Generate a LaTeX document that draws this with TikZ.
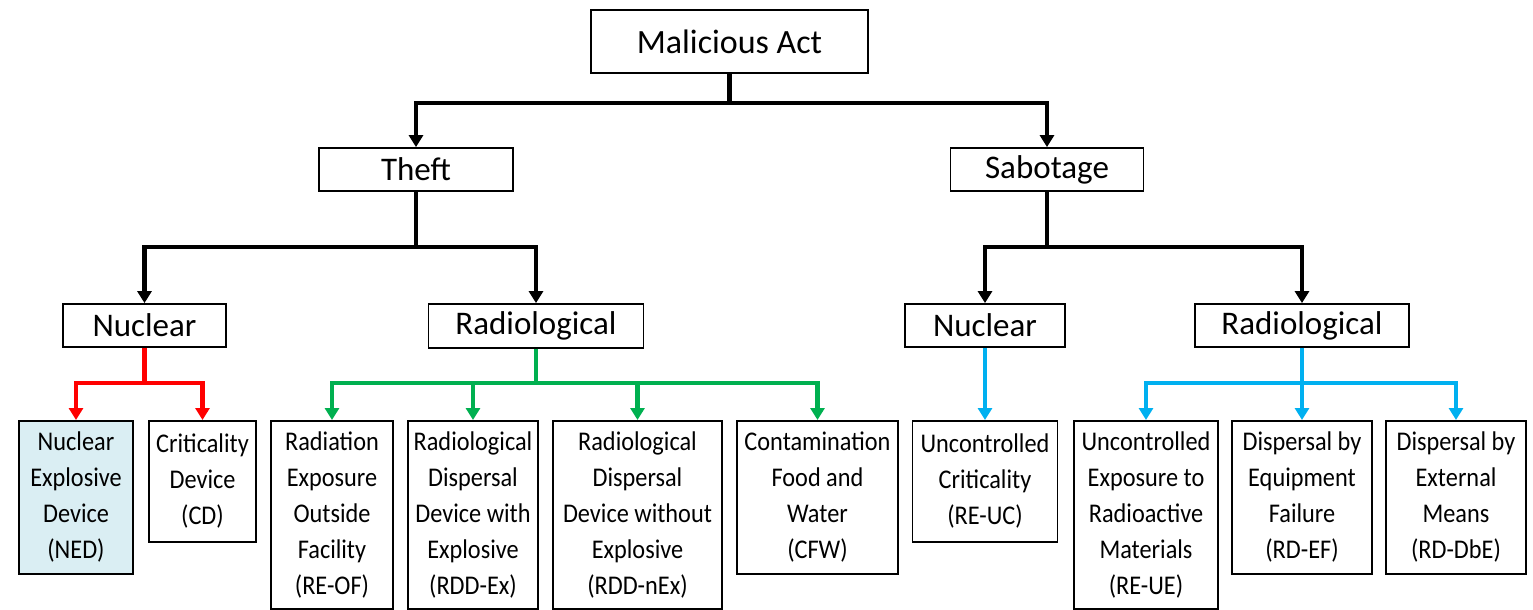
\documentclass[tikz,border=0pt]{standalone}
\usepackage{fontspec}
\setmainfont{Carlito}
\newfontfamily\condfont[FakeStretch=0.9]{Carlito}
\usetikzlibrary{arrows.meta}
\definecolor{cred}{HTML}{FF0000}
\definecolor{cgreen}{HTML}{00B050}
\definecolor{cblue}{HTML}{00B0F0}
\definecolor{nedfill}{HTML}{DAEEF3}
\begin{document}
\begin{tikzpicture}[x=0.5pt,y=-0.5pt,
  box/.style={draw=black, line width=0.9pt, inner sep=0pt, align=center, fill=white},
  topbox/.style={box, font=\fontsize{17}{20}\selectfont},
  midbox/.style={box, font=\fontsize{16.5}{20}\selectfont},
  leafbox/.style={box, font=\condfont\fontsize{13.5}{18}\selectfont, anchor=north},
  conn/.style={line width=2.4pt, -{Triangle[width=7pt,length=6pt]}},
]
\useasboundingbox (0,0) rectangle (1533,610);

\node[topbox, minimum width=138.5pt, minimum height=31.5pt] (ma) at (729.5,41.5) {Malicious Act};
\node[midbox, minimum width=97pt, minimum height=21.5pt] (theft) at (416,169.5) {Theft};
\node[midbox, minimum width=96.5pt, minimum height=21.5pt] (sab) at (1047,169.5) {Sabotage};
\node[midbox, minimum width=81.5pt, minimum height=21.5pt] (nucL) at (144.5,325.5) {Nuclear};
\node[midbox, minimum width=107.5pt, minimum height=22pt] (radL) at (536,326) {Radiological};
\node[midbox, minimum width=80pt, minimum height=21.5pt] (nucR) at (985,325.5) {Nuclear};
\node[midbox, minimum width=107pt, minimum height=21.5pt] (radR) at (1302,325.5) {Radiological};

\node[leafbox, fill=nedfill, minimum width=57pt, minimum height=76.5pt] (ned) at (76,420) {Nuclear\\Explosive\\Device\\(NED)};
\node[leafbox, minimum width=53.5pt, minimum height=60.5pt] (cd) at (202.5,420) {Criticality\\Device\\(CD)};
\node[leafbox, minimum width=61pt, minimum height=94pt] (reof) at (332,420) {Radiation\\Exposure\\Outside\\Facility\\(RE-OF)};
\node[leafbox, minimum width=65pt, minimum height=94pt] (rddex) at (473,420) {Radiological\\Dispersal\\Device with\\Explosive\\(RDD-Ex)};
\node[leafbox, minimum width=84.5pt, minimum height=94pt] (rddnex) at (637.5,420) {Radiological\\Dispersal\\Device without\\Explosive\\(RDD-nEx)};
\node[leafbox, minimum width=80.5pt, minimum height=76.5pt] (cfw) at (817.5,420) {Contamination\\Food and\\Water\\(CFW)};
\node[leafbox, minimum width=72.5pt, minimum height=60.5pt] (reuc) at (985,420) {Uncontrolled\\Criticality\\(RE-UC)};
\node[leafbox, minimum width=72pt, minimum height=94pt] (reue) at (1146,420) {Uncontrolled\\Exposure to\\Radioactive\\Materials\\(RE-UE)};
\node[leafbox, minimum width=70pt, minimum height=76.5pt] (rdef) at (1302,420) {Dispersal by\\Equipment\\Failure\\(RD-EF)};
\node[leafbox, minimum width=70pt, minimum height=76.5pt] (rddbe) at (1456,420) {Dispersal by\\External\\Means\\(RD-DbE)};

\foreach \c in {theft,sab}
  \draw[conn] (ma.south) -- (ma.south |- 0,103) -| (\c.north);
\foreach \c in {nucL,radL}
  \draw[conn] (theft.south) -- (theft.south |- 0,247) -| (\c.north);
\foreach \c in {nucR,radR}
  \draw[conn] (sab.south) -- (sab.south |- 0,247) -| (\c.north);
\foreach \c in {ned,cd}
  \draw[conn, cred] (nucL.south) -- (nucL.south |- 0,383) -| (\c.north);
\foreach \c in {reof,rddex,rddnex,cfw}
  \draw[conn, cgreen] (radL.south) -- (radL.south |- 0,383) -| (\c.north);
\draw[conn, cblue] (nucR.south) -- (reuc.north);
\foreach \c in {reue,rdef,rddbe}
  \draw[conn, cblue] (radR.south) -- (radR.south |- 0,383) -| (\c.north);
\end{tikzpicture}
\end{document}
